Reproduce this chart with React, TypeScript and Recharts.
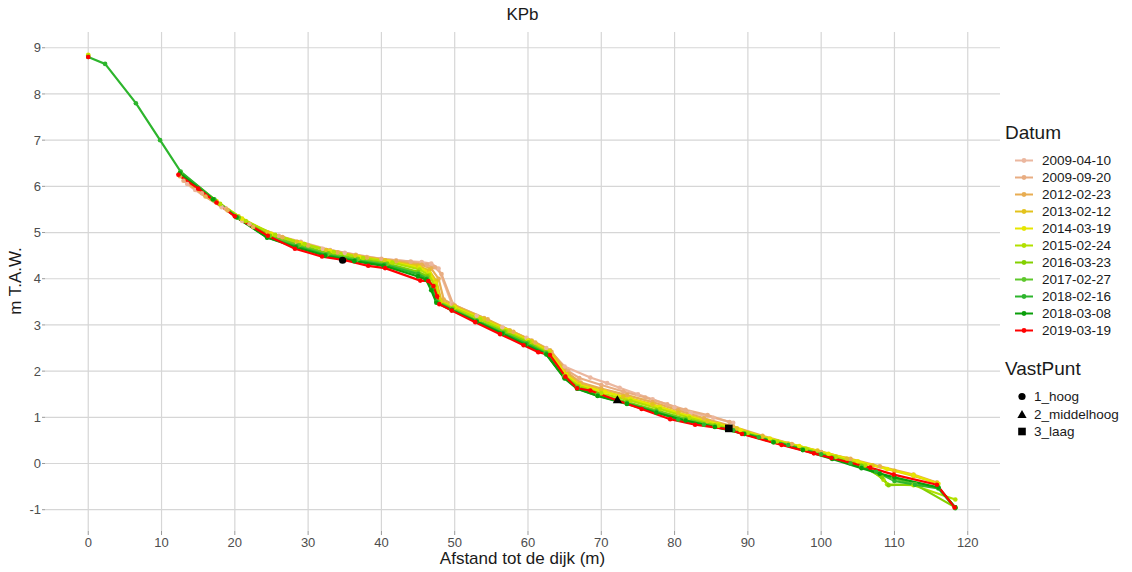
import React from 'react';
import { ComposedChart, Line, Scatter, XAxis, YAxis, CartesianGrid } from 'recharts';

type Pt = [number, number | null];

const datums = [
  '2009-04-10', '2009-09-20', '2012-02-23', '2013-02-12', '2014-03-19', '2015-02-24',
  '2016-03-23', '2017-02-27', '2018-02-16', '2018-03-08', '2019-03-19',
];
const colors = [
  '#ebb79f', '#e8ad82', '#e8ad52', '#e3c21c', '#e6e600', '#b2e000',
  '#84d000', '#5ec82c', '#2db52d', '#0a9f0a', '#ff0000',
];

const s20090410: Pt[] = [[13.5, 6.05], [14.6, 5.92], [18.2, 5.55], [21, 5.25], [25, 4.97], [28.5, 4.78], [32, 4.65], [35, 4.56], [38, 4.47], [42, 4.4], [45.5, 4.36], [46.8, 4.33], [47.8, 4.22], [49.6, 3.46], [53, 3.2], [56.5, 2.95], [59.8, 2.72], [62.5, 2.5], [65, 2.1], [68.5, 1.86], [70.8, 1.74], [72.5, 1.64], [75, 1.5], [77, 1.39], [80, 1.22], [82.2, 1.1], [85.3, 0.99], [88, 0.88]];
const s20090920: Pt[] = [[13, 6.12], [15.5, 5.85], [18.8, 5.52], [22, 5.18], [26, 4.93], [29, 4.8], [33, 4.62], [36.5, 4.52], [40, 4.43], [44, 4.37], [46.2, 4.3], [47.3, 4.25], [48.2, 4.1], [49.8, 3.44], [54, 3.15], [57.5, 2.88], [60.5, 2.66], [63, 2.45], [65.5, 2.0], [67, 1.85], [70, 1.7], [73, 1.56], [76, 1.43], [79, 1.28], [81.5, 1.16], [84.5, 1.05], [87.5, 0.9]];
const s20120223: Pt[] = [[12.5, 6.22], [16, 5.78], [19, 5.48], [22.5, 5.12], [26.5, 4.9], [30, 4.72], [34, 4.57], [38, 4.46], [42, 4.38], [45.5, 4.3], [46.8, 4.22], [47.8, 4.0], [48.5, 3.55], [50, 3.42], [54.5, 3.12], [58, 2.85], [61, 2.62], [63.2, 2.42], [65.5, 1.95], [67.2, 1.75], [70, 1.62], [73.5, 1.48], [77, 1.33], [80.5, 1.15], [84, 0.98], [88, 0.8], [92, 0.6], [96, 0.42], [100, 0.25], [104, 0.1], [108, -0.06], [112.6, -0.24], [115.8, -0.41]];
const s20130212: Pt[] = [[12.4, 6.26], [17, 5.72], [20.5, 5.35], [24.5, 5.0], [28.5, 4.8], [32.5, 4.62], [36.5, 4.5], [40.5, 4.4], [45, 4.28], [46.5, 4.18], [47.5, 3.95], [48.2, 3.52], [50, 3.4], [54, 3.14], [57.5, 2.88], [60.5, 2.65], [63, 2.44], [65.3, 1.93], [67, 1.72], [70, 1.58], [73, 1.45], [77, 1.28], [80.5, 1.1], [84.5, 0.92], [88.5, 0.76], [92, 0.58], [95.5, 0.43], [99.5, 0.28], [103.5, 0.11], [107, -0.04], [110, -0.16], [112.6, -0.27], [115.8, -0.42]];
const s20140319: Pt[] = [[0, 8.85], [6, null], [12.5, 6.28], [17.5, 5.68], [21, 5.3], [25, 4.97], [29, 4.77], [33, 4.6], [37, 4.47], [41, 4.37], [45.2, 4.24], [46.6, 4.12], [47.4, 3.9], [48, 3.5], [50, 3.38], [53.5, 3.14], [57, 2.89], [60, 2.66], [62.8, 2.42], [65.2, 1.92], [67, 1.7], [70.5, 1.55], [74, 1.4], [78, 1.22], [82, 1.02], [86, 0.85], [89, 0.72], [93, 0.54], [97, 0.38], [101, 0.21], [105, 0.05], [109, -0.12], [112.6, -0.25], [116, -0.44]];
const s20150224: Pt[] = [[0, 8.83], [6, null], [12.6, 6.3], [18, 5.62], [21.5, 5.25], [25.5, 4.95], [29.5, 4.75], [33.5, 4.58], [37.5, 4.45], [41.5, 4.35], [45.2, 4.2], [46.5, 4.08], [47.3, 3.85], [47.9, 3.5], [49.8, 3.37], [53.5, 3.12], [57, 2.87], [60.2, 2.63], [62.8, 2.4], [65, 1.9], [66.9, 1.68], [70, 1.52], [74, 1.36], [78, 1.18], [82, 0.99], [86, 0.82], [90, 0.66], [94, 0.48], [98, 0.32], [102, 0.14], [106, -0.04], [108.5, -0.35], [109, -0.45], [112.6, -0.47], [118.3, -0.78]];
const s20160323: Pt[] = [[12.6, 6.3], [17, 5.72], [20.5, 5.32], [24.8, 4.93], [28.8, 4.73], [32.8, 4.55], [36.8, 4.43], [40.8, 4.33], [45, 4.15], [46.3, 4.05], [47, 3.82], [47.7, 3.5], [49.7, 3.35], [53, 3.1], [56.8, 2.85], [60, 2.62], [62.5, 2.4], [65, 1.88], [66.8, 1.66], [69.5, 1.5], [73.5, 1.33], [77.5, 1.15], [81.5, 0.97], [85.5, 0.82], [89.5, 0.66], [93.5, 0.47], [97.5, 0.31], [101.5, 0.13], [105.5, -0.05], [108.3, -0.3], [109.2, -0.47], [112.8, -0.45], [118.3, -0.95]];
const s20170227: Pt[] = [[12.6, 6.3], [17.2, 5.7], [20.5, 5.32], [24.6, 4.92], [28.6, 4.72], [32.6, 4.53], [36.6, 4.41], [40.6, 4.31], [45, 4.12], [46.2, 4.02], [46.9, 3.8], [47.6, 3.5], [49.6, 3.34], [53, 3.09], [56.6, 2.83], [59.8, 2.6], [62.4, 2.39], [64.9, 1.87], [66.7, 1.65], [69.5, 1.48], [73.5, 1.31], [77.5, 1.13], [81.5, 0.95], [85.5, 0.8], [89.5, 0.64], [93.5, 0.46], [97.5, 0.3], [101.5, 0.12], [105.5, -0.07], [109.8, -0.32], [112.8, -0.45], [116, -0.52], [118.3, -0.95]];
const s20180216: Pt[] = [[0, 8.8], [2.3, 8.65], [6.5, 7.8], [9.8, 7.0], [12.6, 6.32], [17.2, 5.72], [20.3, 5.33], [24.4, 4.89], [28.4, 4.7], [32.4, 4.52], [36.4, 4.4], [40.4, 4.3], [45, 4.1], [46.2, 4.0], [46.9, 3.78], [47.5, 3.5], [49.6, 3.33], [53, 3.08], [56.6, 2.82], [59.8, 2.59], [62.5, 2.38], [65, 1.85], [66.8, 1.62], [69.5, 1.47], [73.5, 1.3], [77.5, 1.12], [80.5, 0.95], [84, 0.84], [88, 0.72], [91.5, 0.57], [95.5, 0.4], [100, 0.2], [104, 0.0], [107.5, -0.18], [110, -0.38], [112.8, -0.46], [116, -0.54], [118.3, -0.97]];
const s20180308: Pt[] = [[12.5, 6.28], [17, 5.72], [20.2, 5.33], [24.4, 4.89], [28.3, 4.68], [32.3, 4.5], [36.3, 4.38], [40.3, 4.28], [45, 4.05], [46.1, 3.98], [46.8, 3.75], [47.5, 3.48], [49.6, 3.32], [53, 3.07], [56.5, 2.81], [59.6, 2.57], [62.5, 2.36], [65, 1.84], [66.7, 1.62], [69.5, 1.46], [73.5, 1.29], [77.5, 1.1], [81.5, 0.93], [85.5, 0.79], [89.5, 0.64], [93.5, 0.46], [97.5, 0.29], [101.5, 0.1], [105.5, -0.1], [108, -0.22], [110, -0.3], [116, -0.52], [118.3, -0.95]];
const s20190319: Pt[] = [[0, 8.8], [6, null], [12.3, 6.25], [15, 5.95], [17.5, 5.65], [20, 5.35], [24.5, 4.93], [28.2, 4.65], [31.9, 4.48], [35, 4.4], [38.2, 4.28], [40.5, 4.23], [45.3, 3.96], [46.4, 3.95], [47.1, 3.84], [47.6, 3.62], [47.9, 3.45], [49.6, 3.31], [52.8, 3.06], [56.2, 2.8], [59.4, 2.56], [61.4, 2.41], [63, 2.35], [65.1, 1.88], [66.7, 1.63], [68.5, 1.58], [72.1, 1.37], [75.5, 1.18], [79.4, 0.96], [82.8, 0.84], [87.4, 0.74], [89.2, 0.64], [94.6, 0.4], [99, 0.22], [101.4, 0.12], [106.7, -0.09], [109.9, -0.24], [115.8, -0.46], [118.2, -0.95]];

const series = [s20090410, s20090920, s20120223, s20130212, s20140319, s20150224, s20160323, s20170227, s20180216, s20180308, s20190319];

const vastPunten = ['1_hoog', '2_middelhoog', '3_laag'];
const vastX = [34.7, 72.2, 87.4];
const vastY = [4.4, 1.38, 0.76];

const xTicks = [0, 10, 20, 30, 40, 50, 60, 70, 80, 90, 100, 110, 120];
const yTicks = [-1, 0, 1, 2, 3, 4, 5, 6, 7, 8, 9];

const font = '"Liberation Sans", Arial, sans-serif';

const Marker = ({ kind, x, y }: { kind: number; x: number; y: number }) => {
  if (kind === 0) return <circle cx={x} cy={y} r={3.6} fill="#000" />;
  if (kind === 1) return <polygon points={`${x},${y - 4.6} ${x + 4.6},${y + 3.4} ${x - 4.6},${y + 3.4}`} fill="#000" />;
  return <rect x={x - 3.8} y={y - 3.8} width={7.6} height={7.6} fill="#000" />;
};

const App = () => {
  const vastData = vastPunten.map((name, i) => ({ name, kind: i, x: vastX[i], y: vastY[i] }));
  return (
    <div style={{ position: 'absolute', left: 0, top: 0, width: 1132, height: 572, background: '#fff', fontFamily: font }}>
      <ComposedChart width={1000} height={572} margin={{ top: 32, right: 0, bottom: 0, left: 0 }}>
        <CartesianGrid stroke="#d6d6d6" strokeWidth={1.2} horizontalValues={yTicks} verticalValues={xTicks} />
        <XAxis dataKey="x" type="number" domain={[-5.9, 124.4]} ticks={xTicks} allowDataOverflow
          height={41} axisLine={false} tickLine={{ stroke: '#999' }} tickSize={4} tickMargin={3}
          tick={{ fill: '#4d4d4d', fontSize: 13, fontFamily: font }} />
        <YAxis dataKey="y" type="number" domain={[-1.461, 9.341]} ticks={yTicks} allowDataOverflow
          width={45} axisLine={false} tickLine={{ stroke: '#999' }} tickSize={3} tickMargin={1}
          tick={{ fill: '#4d4d4d', fontSize: 13, fontFamily: font }} />
        {series.map((pts, i) => (
          <Line key={datums[i]} data={pts.map(([x, y]) => ({ x, y }))} dataKey="y" type="linear"
            stroke={colors[i]} strokeWidth={2.2} connectNulls={false} isAnimationActive={false}
            dot={{ r: 2.3, fill: colors[i], stroke: 'none' }} activeDot={false} />
        ))}
        <Scatter data={vastData} dataKey="y" isAnimationActive={false}
          shape={(p: any) => <Marker kind={p.payload.kind} x={p.cx} y={p.cy} />} />
      </ComposedChart>

      <div style={{ position: 'absolute', left: 0, top: 5, width: 1045, textAlign: 'center', fontSize: 17, color: '#1a1a1a' }}>KPb</div>
      <div style={{ position: 'absolute', left: 0, top: 549, width: 1045, textAlign: 'center', fontSize: 17, color: '#1a1a1a' }}>Afstand tot de dijk (m)</div>
      <div style={{ position: 'absolute', left: 16, top: 281, fontSize: 17, color: '#1a1a1a', whiteSpace: 'nowrap', transform: 'translate(-50%, -50%) rotate(-90deg)' }}>m T.A.W.</div>

      <div style={{ position: 'absolute', left: 1005, top: 122, fontSize: 19, color: '#1a1a1a' }}>Datum</div>
      {datums.map((d, i) => (
        <div key={d} style={{ position: 'absolute', left: 1014, top: 152 + i * 17, height: 17, display: 'flex', alignItems: 'center' }}>
          <svg width={20} height={17}>
            <line x1={1} x2={19} y1={8.5} y2={8.5} stroke={colors[i]} strokeWidth={2} />
            <circle cx={10} cy={8.5} r={2.4} fill={colors[i]} />
          </svg>
          <span style={{ marginLeft: 8, fontSize: 13.5, color: '#1a1a1a' }}>{d}</span>
        </div>
      ))}
      <div style={{ position: 'absolute', left: 1005, top: 358, fontSize: 19, color: '#1a1a1a' }}>VastPunt</div>
      {vastPunten.map((v, i) => (
        <div key={v} style={{ position: 'absolute', left: 1014, top: 388 + i * 17.5, height: 17, display: 'flex', alignItems: 'center' }}>
          <svg width={16} height={17}>
            <Marker kind={i} x={8} y={8.5} />
          </svg>
          <span style={{ marginLeft: 4, fontSize: 13.5, color: '#1a1a1a' }}>{v}</span>
        </div>
      ))}
    </div>
  );
};

export default App;
